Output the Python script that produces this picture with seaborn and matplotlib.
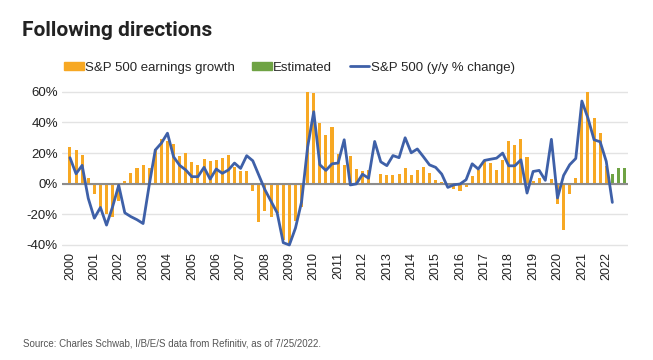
import numpy as np
import pandas as pd
import seaborn as sns
import matplotlib.pyplot as plt
from matplotlib.patches import Patch
from matplotlib.lines import Line2D

# quarterly data, 2000 Q1 .. 2022 Q4
years = list(range(2000, 2023))
earnings_growth = [24, 22, 19, 4, -7, -15, -20, -22, -11, 2, 7, 10, 12, 10, 23, 29,
                   28, 26, 18, 20, 14, 12, 16, 15, 15.5, 16.5, 19, 11, 8.5, 8.5, -4.6, -25,
                   -18, -22, -19, -37, -39, -24.5, -15, 60, 59, 39.6, 32, 37, 19.6, 12.4,
                   18, 9.6, 8, 9, 0.5, 6.5, 6, 5.4, 6.5, 10, 6, 9, 11, 7,
                   2.5, 1.4, 0.2, -3.4, -5, -2.2, 4.8, 8.7, 15.6, 13.5, 9, 15.6, 27.6, 25.4,
                   29, 17.4, 2, 3.7, -0.4, 3.3, -13, -30.5, -6.5, 4, 52, 60, 43, 33, 11.5]
estimated = [6.5, 10, 10]
sp500_change = [17, 6.5, 12, -9.5, -22.5, -15.5, -27, -15, -1, -19, -21.5, -23.5, -26, -1,
                22, 26.5, 33, 17.6, 12, 9, 4.6, 4.6, 10.7, 3, 9.6, 6.8, 9, 13.5, 10, 18.3,
                15, 5.5, -4, -11.5, -19, -38.5, -40, -29, -12, 24, 47, 12.4, 8.7, 13, 13.5,
                28.7, -0.8, -0.1, 6.2, 3.6, 27.6, 14.3, 11.8, 18.4, 17, 30, 20.2, 22.7, 17.6,
                12.3, 10.7, 6.3, -2.4, -0.7, -0.2, 2.6, 13, 9.6, 15.2, 16, 16.7, 20, 11.7,
                11.7, 15.6, -6.1, 8, 8.7, 2.2, 29, -9.3, 5.4, 12.4, 16.5, 54, 42.8, 28.7,
                27.4, 14.6, -12.2]

orange = '#F7A823'
green = '#6FA344'
blue = '#3E60A8'

df = pd.DataFrame({
    'q': range(len(earnings_growth) + len(estimated)),
    'value': earnings_growth + estimated,
    'kind': ['actual'] * len(earnings_growth) + ['est'] * len(estimated),
})

sns.set_style('white')
plt.rcParams['font.family'] = ['Liberation Sans', 'DejaVu Sans']

fig = plt.figure(figsize=(6.53, 3.6), dpi=100)
ax = fig.add_axes([0.095, 0.311, 0.867, 0.436])

sns.barplot(data=df, x='q', y='value', hue='kind', dodge=False, width=0.5,
            palette={'actual': orange, 'est': green}, legend=False, ax=ax,
            native_scale=True, saturation=1, linewidth=0, edgecolor='none')
sns.lineplot(x=np.arange(len(sp500_change)), y=sp500_change, color=blue, lw=2, ax=ax)

ax.set_ylim(-42, 60.5)
ax.set_xlim(-1.3, 91.6)
ax.set_yticks([-40, -20, 0, 20, 40, 60])
ax.set_yticklabels([f'{v}%' for v in [-40, -20, 0, 20, 40, 60]], fontsize=9.5, color='#222')
ax.set_xticks(np.arange(len(years)) * 4)
ax.set_xticklabels([str(y) for y in years], rotation=90, fontsize=9, color='#222')
ax.tick_params(axis='both', length=0, pad=3)
ax.set_xlabel('')
ax.set_ylabel('')
ax.yaxis.grid(True, color='#e3e3e3', lw=1)
ax.set_axisbelow(True)
ax.axhline(0, color='#8c8c8c', lw=1.5, zorder=1.5)
for s in ax.spines.values():
    s.set_visible(False)

handles = [Patch(color=orange), Patch(color=green), Line2D([], [], color=blue, lw=2)]
labels = ['S&P 500 earnings growth', 'Estimated', 'S&P 500 (y/y % change)']
fig.legend(handles, labels, loc='center left', bbox_to_anchor=(0.08, 0.812), ncol=3,
           frameon=False, fontsize=9.5, handlelength=1.5, handleheight=0.6,
           handletextpad=0.1, columnspacing=1.3)

fig.text(0.033, 0.915, 'Following directions', fontsize=15, fontweight='bold',
         color='#222', va='center', family=['Roboto', 'DejaVu Sans'])
fig.text(0.035, 0.045, 'Source: Charles Schwab, I/B/E/S data from Refinitiv, as of 7/25/2022.',
         fontsize=7, color='#555', va='center')

fig.savefig('out.png', dpi=100, facecolor='white')
